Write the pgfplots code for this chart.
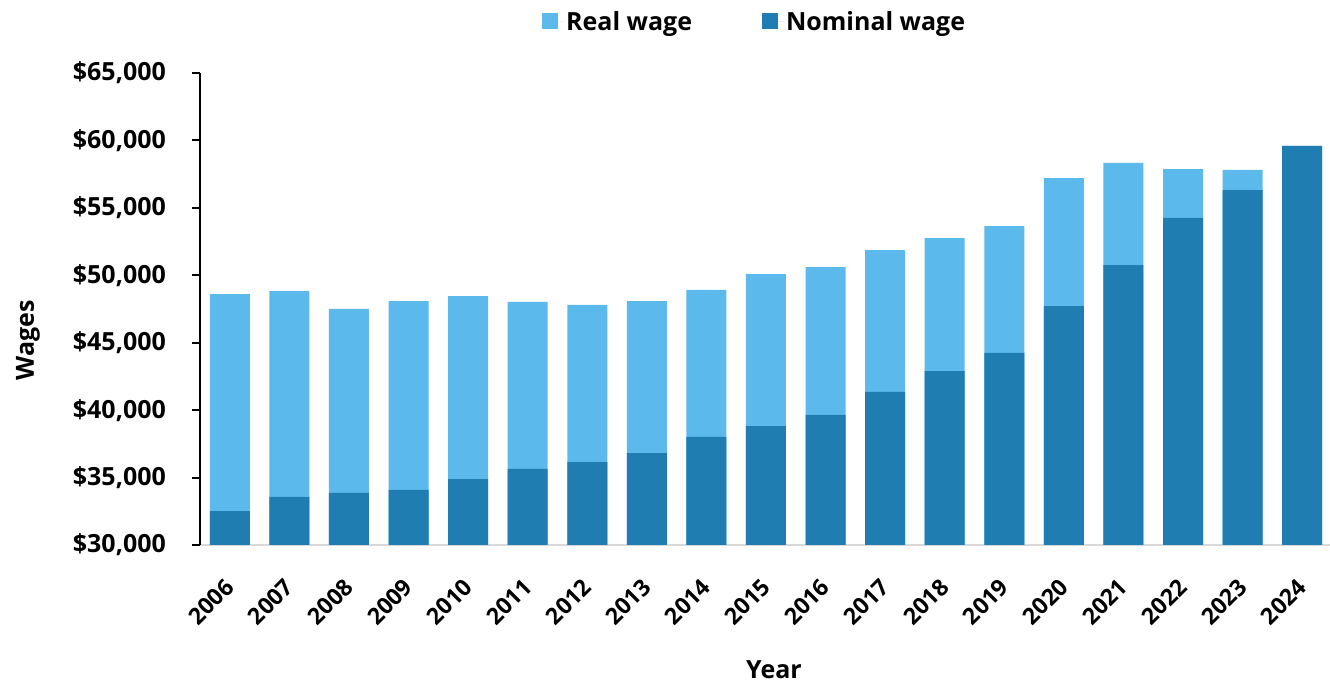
\documentclass[border=0pt]{standalone}
\usepackage{fontspec}
\setmainfont{Open Sans}
\usepackage{pgfplots}
\usepackage{pgfplotstable}
\pgfplotsset{compat=1.18}
\definecolor{RealBlue}{HTML}{5BB9EC}
\definecolor{NomBlue}{HTML}{1F7DB1}
\definecolor{AxisGrey}{HTML}{D9D9D9}

% wages in dollars
\pgfplotstableread{
idx year real nominal
0  2006 48610 32520
1  2007 48830 33560
2  2008 47500 33860
3  2009 48090 34080
4  2010 48460 34890
5  2011 48020 35640
6  2012 47800 36150
7  2013 48090 36820
8  2014 48910 38010
9  2015 50090 38820
10 2016 50610 39640
11 2017 51870 41350
12 2018 52760 42900
13 2019 53650 44240
14 2020 57210 47720
15 2021 58330 50760
16 2022 57880 54250
17 2023 57810 56320
18 2024 59590 59590
}\wagedata

\begin{document}
\begin{tikzpicture}[x=1pt,y=1pt]
\path[use as bounding box] (0,0) rectangle (1330,684);
\begin{axis}[
    at={(200pt,139pt)}, anchor=south west,
    scale only axis, width=1132pt, height=472pt,
    ybar, bar width=40pt,
    xmin=-0.5, xmax=18.5, ymin=30000, ymax=65000,
    xtick={0,...,18},
    xticklabels from table={\wagedata}{year},
    ytick={30000,35000,...,65000},
    scaled y ticks=false,
    yticklabel={\$\pgfmathprintnumber{\tick}},
    /pgf/number format/1000 sep={,},
    /pgf/number format/assume math mode=true,
    axis x line*=bottom, axis y line*=left,
    x axis line style={draw=AxisGrey, line width=2pt},
    y axis line style={draw=black, line width=2pt},
    xtick style={draw=none},
    ytick style={draw=black, line width=2pt},
    tick align=outside, major tick length=8pt,
    yticklabel style={inner sep=0pt, font=\fontsize{25}{30}\selectfont\bfseries},
    yticklabel shift=26pt,
    xticklabel style={rotate=45, anchor=east, inner sep=0pt,
        font=\fontsize{23}{28}\selectfont\bfseries},
    xticklabel shift=30pt,
    legend columns=2,
    legend style={at={(0.49,1.14)}, anchor=north, draw=none,
        font=\fontsize{25}{30}\selectfont\bfseries,
        /tikz/every even column/.append style={column sep=68pt}},
    legend image code/.code={%
        \path (0pt,0pt) -- (22pt,0pt);
        \fill[#1] (0pt,-8pt) rectangle (16pt,8pt);},
]
\addplot[fill=RealBlue, draw=none, bar shift=0pt] table[x=idx, y=real]{\wagedata};
\addlegendentry{Real wage}
\addplot[fill=NomBlue, draw=none, bar shift=0pt] table[x=idx, y=nominal]{\wagedata};
\addlegendentry{Nominal wage}
\end{axis}
\node[rotate=90, font=\fontsize{25}{30}\selectfont\bfseries] at (28,344) {Wages};
\node[font=\fontsize{25}{30}\selectfont\bfseries] at (774,14) {Year};
\end{tikzpicture}
\end{document}
